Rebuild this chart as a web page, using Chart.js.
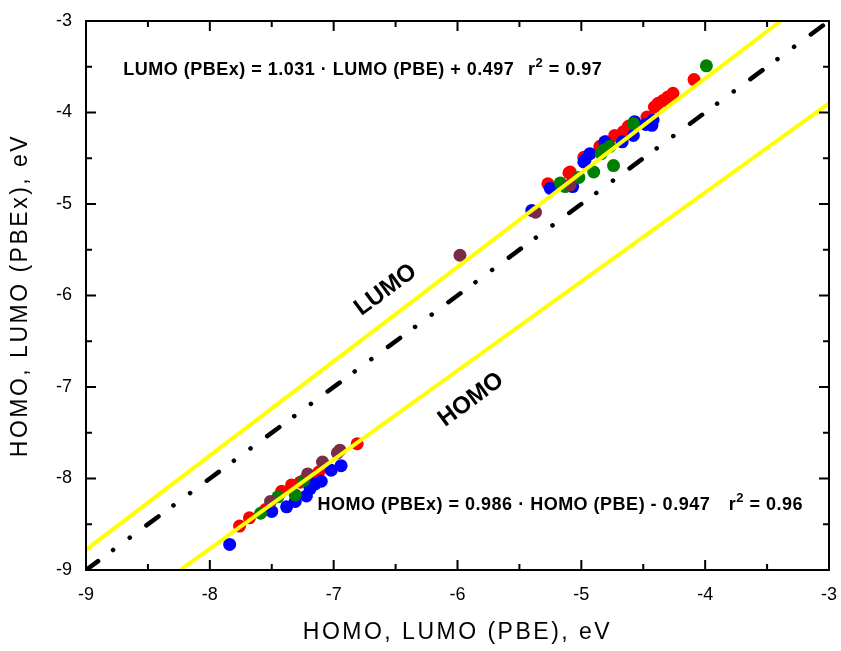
<!DOCTYPE html>
<html>
<head>
<meta charset="utf-8">
<script src="https://cdn.jsdelivr.net/npm/chart.js@4.4.1/dist/chart.umd.min.js"></script>
<style>
  html, body { margin: 0; padding: 0; background: #fff; }
  canvas { display: block; }
</style>
</head>
<body>
<canvas id="chart" width="841" height="651"></canvas>
<script>
// PBE (x) vs PBEx (y) orbital energies, eV, one pair of arrays per colour
const redX = [-4.09, -4.26, -4.30, -4.34, -4.41, -4.47, -4.38, -4.62, -4.66, -4.73, -4.80, -4.85, -4.98, -5.09, -5.10, -5.27,
              -6.81, -7.12, -7.20, -7.27, -7.34, -7.42, -7.55, -7.68, -7.76];
const redY = [-3.64, -3.79, -3.83, -3.87, -3.94, -4.05, -3.90, -4.15, -4.21, -4.25, -4.32, -4.37, -4.49, -4.65, -4.66, -4.78,
              -7.62, -7.93, -8.00, -8.04, -8.07, -8.14, -8.34, -8.43, -8.52];

const blueX = [-4.42, -4.43, -4.48, -4.57, -4.58, -4.67, -4.81, -4.79, -4.93, -4.97, -4.98, -5.07, -5.25, -5.40,
               -6.94, -7.02, -7.10, -7.15, -7.19, -7.22, -7.31, -7.38, -7.50, -7.84];
const blueY = [-4.08, -4.14, -4.13, -4.10, -4.25, -4.32, -4.32, -4.36, -4.45, -4.52, -4.54, -4.81, -4.83, -5.07,
               -7.86, -7.91, -8.03, -8.06, -8.11, -8.19, -8.25, -8.31, -8.36, -8.72];

const greenX = [-3.99, -4.58, -4.77, -4.82, -4.84, -4.74, -4.90, -5.02, -5.13, -5.17,
                -7.24, -7.31, -7.45, -7.59];
const greenY = [-3.49, -4.12, -4.37, -4.41, -4.45, -4.58, -4.65, -4.71, -4.81, -4.77,
                -8.02, -8.18, -8.20, -8.38];

const brownX = [-5.09, -5.37, -5.98, -6.95, -6.97, -7.09, -7.21, -7.51];
const brownY = [-4.79, -5.09, -5.56, -7.69, -7.72, -7.82, -7.95, -8.25];

// fitted lines and the y = x diagonal (end points)
const lumoFitX = [-9, -3.39];
const lumoFitY = [-8.78, -3];
const homoFitX = [-8.24, -3];
const homoFitY = [-9, -3.90];
const diagX = [-9, -3];
const diagY = [-9, -3];

const axisTicks = [-9, -8, -7, -6, -5, -4, -3];

const lumoEq = 'LUMO (PBEx) = 1.031 \u00b7 LUMO (PBE) + 0.497';
const homoEq = 'HOMO (PBEx) = 0.986 \u00b7 HOMO (PBE) - 0.947';
const lumoR2 = '0.97';
const homoR2 = '0.96';

const FONT = "'Liberation Sans', Arial, sans-serif";

function pts(xs, ys) {
  return xs.map((x, i) => ({ x: x, y: ys[i] }));
}

function dots(xs, ys, color, order) {
  return {
    data: pts(xs, ys),
    backgroundColor: color,
    borderWidth: 0,
    pointRadius: 6.5,
    pointHoverRadius: 6.5,
    order: order
  };
}

function line(xs, ys, color, dash) {
  return {
    type: 'line',
    data: pts(xs, ys),
    borderColor: color,
    borderWidth: dash ? 4.5 : 4,
    borderDash: dash || [],
    borderCapStyle: dash ? 'round' : 'butt',
    pointRadius: 0,
    showLine: true,
    fill: false,
    order: 0
  };
}

// frame, inward ticks, axis titles and the text notes
const decorations = {
  id: 'decorations',
  afterDraw(chart) {
    const ctx = chart.ctx;
    const a = chart.chartArea;
    const xs = chart.scales.x, ys = chart.scales.y;
    ctx.save();
    ctx.strokeStyle = '#000';
    ctx.lineWidth = 2;
    ctx.strokeRect(a.left, a.top, a.right - a.left, a.bottom - a.top);

    for (let v = -9; v <= -3.001; v += 0.5) {
      const major = Math.abs(v - Math.round(v)) < 1e-6;
      const len = major ? 10 : 6;
      const px = xs.getPixelForValue(v);
      const py = ys.getPixelForValue(v);
      ctx.beginPath();
      ctx.moveTo(px, a.bottom); ctx.lineTo(px, a.bottom - len);
      ctx.moveTo(px, a.top); ctx.lineTo(px, a.top + len);
      ctx.moveTo(a.left, py); ctx.lineTo(a.left + len, py);
      ctx.moveTo(a.right, py); ctx.lineTo(a.right - len, py);
      ctx.stroke();
    }

    ctx.fillStyle = '#000';
    // axis titles
    ctx.font = '23px ' + FONT;
    ctx.letterSpacing = '2.5px';
    ctx.textAlign = 'center';
    ctx.textBaseline = 'middle';
    ctx.fillText('HOMO, LUMO (PBE), eV', (a.left + a.right) / 2, 633);
    ctx.save();
    ctx.translate(21, (a.top + a.bottom) / 2);
    ctx.rotate(-Math.PI / 2);
    ctx.fillText('HOMO, LUMO (PBEx), eV', 0, 0);
    ctx.restore();
    ctx.letterSpacing = '0px';

    // equations
    const eq = (text, x0, y0, xr, r2) => {
      const bx = xs.getPixelForValue(x0);
      const by = ys.getPixelForValue(y0);
      ctx.textAlign = 'left';
      ctx.textBaseline = 'alphabetic';
      ctx.font = 'bold 18px ' + FONT;
      ctx.letterSpacing = '0.5px';
      ctx.fillText(text, bx, by);
      let rx = xs.getPixelForValue(xr);
      ctx.fillText('r', rx, by);
      rx += ctx.measureText('r').width;
      ctx.font = 'bold 13px ' + FONT;
      ctx.fillText('2', rx, by - 8);
      rx += ctx.measureText('2').width;
      ctx.font = 'bold 18px ' + FONT;
      ctx.fillText(' = ' + r2, rx, by);
      ctx.letterSpacing = '0px';
    };
    eq(lumoEq, -8.70, -3.59, -5.43, lumoR2);
    eq(homoEq, -7.13, -8.34, -3.81, homoR2);

    // rotated line labels
    const tag = (text, x, y) => {
      ctx.save();
      ctx.translate(xs.getPixelForValue(x), ys.getPixelForValue(y));
      ctx.rotate(-36.5 * Math.PI / 180);
      ctx.font = 'bold 24px ' + FONT;
      ctx.textAlign = 'center';
      ctx.textBaseline = 'middle';
      ctx.fillText(text, 0, 0);
      ctx.restore();
    };
    tag('LUMO', -6.58, -5.94);
    tag('HOMO', -5.89, -7.14);
    ctx.restore();
  }
};

new Chart(document.getElementById('chart'), {
  type: 'scatter',
  data: {
    datasets: [
      line(lumoFitX, lumoFitY, '#ffff00'),
      line(homoFitX, homoFitY, '#ffff00'),
      line(diagX, diagY, '#000000', [15, 18.6, 0.1, 20.6, 0.1, 20.7]),
      dots(brownX, brownY, '#7b2d45', 1),
      dots(greenX, greenY, '#008000', 2),
      dots(blueX, blueY, '#0000ff', 3),
      dots(redX, redY, '#ff0000', 4)
    ]
  },
  options: {
    responsive: false,
    animation: false,
    devicePixelRatio: 1,
    layout: { padding: { top: 21, right: 12, left: 0, bottom: 0 } },
    plugins: {
      legend: { display: false },
      tooltip: { enabled: false }
    },
    scales: {
      x: {
        type: 'linear',
        min: -9,
        max: -3,
        afterBuildTicks: s => { s.ticks = axisTicks.map(v => ({ value: v })); },
        afterFit: s => { s.height = 81; s.paddingLeft = 0; s.paddingRight = 0; },
        grid: { display: false, drawTicks: false },
        border: { display: false },
        ticks: { color: '#000', font: { family: FONT, size: 18 }, padding: 14 }
      },
      y: {
        type: 'linear',
        min: -9,
        max: -3,
        afterBuildTicks: s => { s.ticks = axisTicks.map(v => ({ value: v })); },
        afterFit: s => { s.width = 86; s.paddingTop = 0; s.paddingBottom = 0; },
        grid: { display: false, drawTicks: false },
        border: { display: false },
        ticks: { color: '#000', font: { family: FONT, size: 18 }, padding: 14 }
      }
    }
  },
  plugins: [decorations]
});
</script>
</body>
</html>
